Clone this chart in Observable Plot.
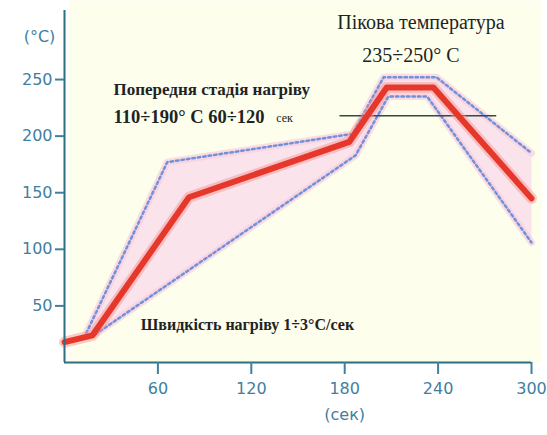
<!DOCTYPE html>
<html>
<head>
<meta charset="utf-8">
<script src="https://cdn.jsdelivr.net/npm/d3@7"></script>
<script src="https://cdn.jsdelivr.net/npm/@observablehq/plot@0.6"></script>
<style>
  html, body { margin: 0; padding: 0; background: #ffffff; }
  #chart svg { display: block; }
</style>
</head>
<body>
<div id="chart"></div>
<script>
// Reflow soldering profile (time in s, temperature in °C)
const profileTime = [0, 18, 80, 183, 207, 237, 300];
const profileTemp = [18, 24, 146, 195, 243, 243, 145];

const upperTime = [14, 66, 185, 205, 239, 300];
const upperTemp = [26, 177, 202, 252, 252, 185];

const lowerTime = [20, 187, 208, 233, 300];
const lowerTemp = [25, 183, 235, 235, 106];

const meltTime = [177, 277];
const meltTemp = 218;

const xTicks = [60, 120, 180, 240, 300];
const yTicks = [50, 100, 150, 200, 250];

const xLabel = "(сек)";
const yLabel = "(°C)";
const peakTitle = "Пікова температура";
const peakRange = "235÷250° C";
const preTitle = "Попередня стадія нагріву";
const preRange = "110÷190° C 60÷120";
const preUnit = "сек";
const rateText = "Швидкість нагріву 1÷3°C/сек";

const profile = profileTime.map((t, i) => ({t, v: profileTemp[i]}));
const upper = upperTime.map((t, i) => ({t, v: upperTemp[i]}));
const lower = lowerTime.map((t, i) => ({t, v: lowerTemp[i]}));
const band = upper.concat(lower.slice().reverse());
const melt = meltTime.map(t => ({t, v: meltTemp}));

const axisColor = "#3f80a0";
const serif = "Liberation Serif, Times New Roman, serif";
const ink = "#1d2424";

const chart = Plot.plot({
  width: 547,
  height: 435,
  marginLeft: 64,
  marginRight: 16,
  marginTop: 10,
  marginBottom: 73,
  style: {fontFamily: "DejaVu Sans, sans-serif", color: axisColor, background: "#ffffff"},
  x: {domain: [0, 300]},
  y: {domain: [0, 311]},
  marks: [
    Plot.frame({fill: "#fefeec", stroke: null, insetRight: -10, insetTop: -10, insetLeft: 5}),
    // tolerance band
    Plot.line(band, {x: "t", y: "v", fill: "#fbe3ec", stroke: "none", curve: "linear-closed"}),
    Plot.line(upper, {x: "t", y: "v", stroke: "#f7cfe0", strokeWidth: 7, strokeOpacity: 0.7, strokeLinejoin: "round"}),
    Plot.line(lower, {x: "t", y: "v", stroke: "#f7cfe0", strokeWidth: 7, strokeOpacity: 0.7, strokeLinejoin: "round"}),
    Plot.line(upper, {x: "t", y: "v", stroke: "#7390d8", strokeWidth: 2.5, strokeDasharray: "2.5,3"}),
    Plot.line(lower, {x: "t", y: "v", stroke: "#7390d8", strokeWidth: 2.5, strokeDasharray: "2.5,3"}),
    // melting line
    Plot.line(melt, {x: "t", y: "v", stroke: "#2f4d45", strokeWidth: 1.5}),
    // profile
    Plot.line(profile, {x: "t", y: "v", stroke: "#f29a98", strokeWidth: 11, strokeOpacity: 0.5, strokeLinejoin: "round"}),
    Plot.line(profile, {x: "t", y: "v", stroke: "#e6382a", strokeWidth: 6, strokeLinejoin: "round"}),
    // axes
    Plot.ruleX([0], {stroke: "#2f6f80", strokeWidth: 2}),
    Plot.ruleY([0], {stroke: "#2f6f80", strokeWidth: 2}),
    Plot.axisY({ticks: yTicks, tickSize: 9, tickPadding: 3, fontSize: 16, strokeWidth: 2, tickFormat: d => String(d), label: null}),
    Plot.axisX({ticks: xTicks, tickSize: 12, tickPadding: 8, fontSize: 16, strokeWidth: 2, tickFormat: d => String(d), label: null}),
    Plot.text([xLabel], {frameAnchor: "bottom", x: () => 180, dy: 57, fontSize: 16, fill: axisColor}),
    Plot.text([yLabel], {frameAnchor: "top-left", dx: -25, dy: 20, fontSize: 16, fill: axisColor, textAnchor: "middle"}),
    // annotations
    Plot.text([peakTitle], {x: () => 229, y: () => 300, fontSize: 20, fontFamily: serif, fill: ink}),
    Plot.text([peakRange], {x: () => 222.5, y: () => 271, fontSize: 20, fontFamily: serif, fill: ink}),
    Plot.text([preTitle], {x: () => 31.5, y: () => 241, textAnchor: "start", fontSize: 17, fontWeight: "bold", fontFamily: serif, fill: ink}),
    Plot.text([preRange], {x: () => 31.5, y: () => 217, textAnchor: "start", fontSize: 18.5, fontWeight: "bold", fontFamily: serif, fill: ink}),
    Plot.text([preUnit], {x: () => 136, y: () => 216, textAnchor: "start", fontSize: 12, fontFamily: serif, fill: ink}),
    Plot.text([rateText], {x: () => 49, y: () => 33, textAnchor: "start", fontSize: 16, fontWeight: "bold", fontFamily: serif, fill: ink})
  ]
});
document.getElementById("chart").appendChild(chart);
</script>
</body>
</html>
